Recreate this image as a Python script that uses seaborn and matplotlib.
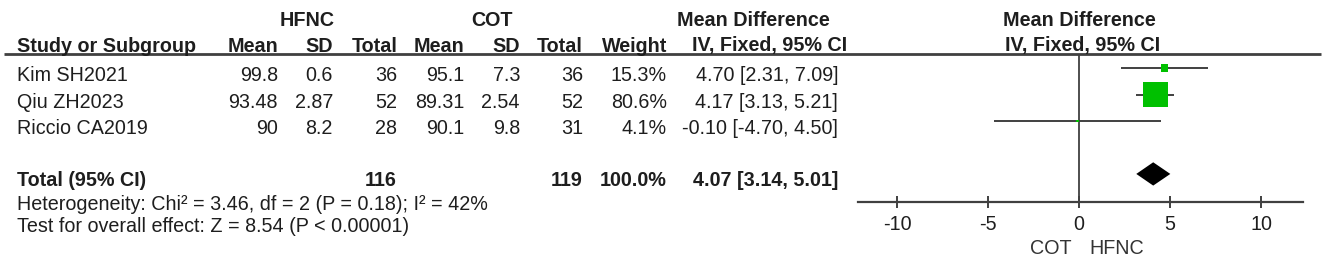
import matplotlib
matplotlib.use("Agg")
import matplotlib.pyplot as plt
import seaborn as sns
import numpy as np
import pandas as pd

# ---------------- data ----------------
studies = ["Kim SH2021", "Qiu ZH2023", "Riccio CA2019"]
hfnc_mean = [99.8, 93.48, 90]
hfnc_sd = [0.6, 2.87, 8.2]
hfnc_total = [36, 52, 28]
cot_mean = [95.1, 89.31, 90.1]
cot_sd = [7.3, 2.54, 9.8]
cot_total = [36, 52, 31]
weights = [15.3, 80.6, 4.1]
md = [4.70, 4.17, -0.10]
ci_lo = [2.31, 3.13, -4.70]
ci_hi = [7.09, 5.21, 4.50]

total_label = "Total (95% CI)"
total_hfnc = 116
total_cot = 119
total_weight = 100.0
total_md = 4.07
total_lo = 3.14
total_hi = 5.01

heterogeneity = "Heterogeneity: Chi² = 3.46, df = 2 (P = 0.18); I² = 42%"
overall = "Test for overall effect: Z = 8.54 (P < 0.00001)"
xticks = [-10, -5, 0, 5, 10]
left_label = "COT"
right_label = "HFNC"

# ---------------- style ----------------
sns.set_theme(style="white")
plt.rcParams["font.family"] = ["Liberation Sans", "DejaVu Sans"]
TXT = "#1e1e1e"
LINE = "#404040"
GREEN = "#00c000"
FS = 14.2

W, H = 1325, 258
fig = plt.figure(figsize=(W / 100, H / 100), dpi=100)

# table axes in pixel coordinates
axt = fig.add_axes([0, 0, 1, 1])
axt.set_xlim(0, W)
axt.set_ylim(H, 0)
axt.axis("off")

def t(x, y, s, ha="right", bold=False, **kw):
    axt.text(x, y, s, ha=ha, va="center", fontsize=FS, color=TXT,
             fontweight="bold" if bold else "normal", **kw)

LX = 17
# header
t(307, 20, "HFNC", ha="center", bold=True)
t(492, 20, "COT", ha="center", bold=True)
t(753, 20, "Mean Difference", ha="center", bold=True)
t(1079, 20, "Mean Difference", ha="center", bold=True)
t(LX, 46, "Study or Subgroup", ha="left", bold=True)
for x, s in [(278, "Mean"), (333, "SD"), (398, "Total"), (464, "Mean"),
             (520, "SD"), (583, "Total"), (667, "Weight")]:
    t(x, 46, s, bold=True)
t(770, 46, "IV, Fixed, 95% CI", ha="center", bold=True)
t(1083, 46, "IV, Fixed, 95% CI", ha="center", bold=True)
axt.plot([4, 1321], [53.5, 53.5], color=LINE, lw=2, solid_capstyle="butt")

# study rows
row_text_y = [75.5, 102, 128.5]
for i, name in enumerate(studies):
    y = row_text_y[i]
    t(LX, y, name, ha="left")
    t(278, y, f"{hfnc_mean[i]:g}")
    t(333, y, f"{hfnc_sd[i]:g}")
    t(397, y, f"{hfnc_total[i]}")
    t(464, y, f"{cot_mean[i]:g}")
    t(520, y, f"{cot_sd[i]:g}")
    t(583, y, f"{cot_total[i]}")
    t(667, y, f"{weights[i]:.1f}%")
    t(838, y, f"{md[i]:.2f} [{ci_lo[i]:.2f}, {ci_hi[i]:.2f}]")

# total row
t(LX, 181, total_label, ha="left", bold=True)
t(397, 181, f"{total_hfnc}", bold=True)
t(583, 181, f"{total_cot}", bold=True)
t(667, 181, f"{total_weight:.1f}%", bold=True)
t(838, 181, f"{total_md:.2f} [{total_lo:.2f}, {total_hi:.2f}]", bold=True)
t(LX, 204, heterogeneity, ha="left")
t(LX, 226, overall, ha="left")

# ---------------- forest axes ----------------
x0, x1 = 858, 1303
ytop, ybot = 54, 202
ax = fig.add_axes([x0 / W, 1 - ybot / H, (x1 - x0) / W, (ybot - ytop) / H])
ax.patch.set_alpha(0)
ax.set_xlim(-12.15, 12.3)
ax.set_ylim(5.06, -0.53)

rows = [0, 1, 2]
df = pd.DataFrame({"study": studies, "md": md, "lo": ci_lo, "hi": ci_hi,
                   "w": weights, "row": rows})
ax.hlines(df["row"], df["lo"], df["hi"], color=LINE, lw=1.4, zorder=2)
side_px = 25 * (np.array(weights) / max(weights)) ** 0.75
sizes = (side_px * 0.72) ** 2
sns.scatterplot(data=df, x="md", y="row", marker="s", s=sizes, color=GREEN,
                linewidth=0, ax=ax, zorder=3, legend=False)

# diamond for total
yt = 4
hh = 0.44
ax.fill([total_lo, total_md, total_hi, total_md], [yt, yt - hh, yt, yt + hh],
        color="black", lw=0, zorder=3)

ax.axvline(0, color=LINE, lw=1.3, zorder=1)
for s in ["top", "right", "left"]:
    ax.spines[s].set_visible(False)
ax.spines["bottom"].set_color(LINE)
ax.spines["bottom"].set_linewidth(1.6)
ax.set_xticks(xticks)
ax.set_xticklabels([f"{v:g}" for v in xticks])
ax.set_yticks([])
ax.tick_params(axis="x", direction="inout", length=9, width=1.4, color=LINE,
               labelsize=FS, labelcolor=TXT, pad=5, bottom=True)
ax.set_xlabel("")
ax.set_ylabel("")

axt.text(1072, 248, left_label, ha="right", va="center", fontsize=FS, color="#333333")
axt.text(1089, 248, right_label, ha="left", va="center", fontsize=FS, color="#333333")

fig.savefig("out.png", dpi=100)
